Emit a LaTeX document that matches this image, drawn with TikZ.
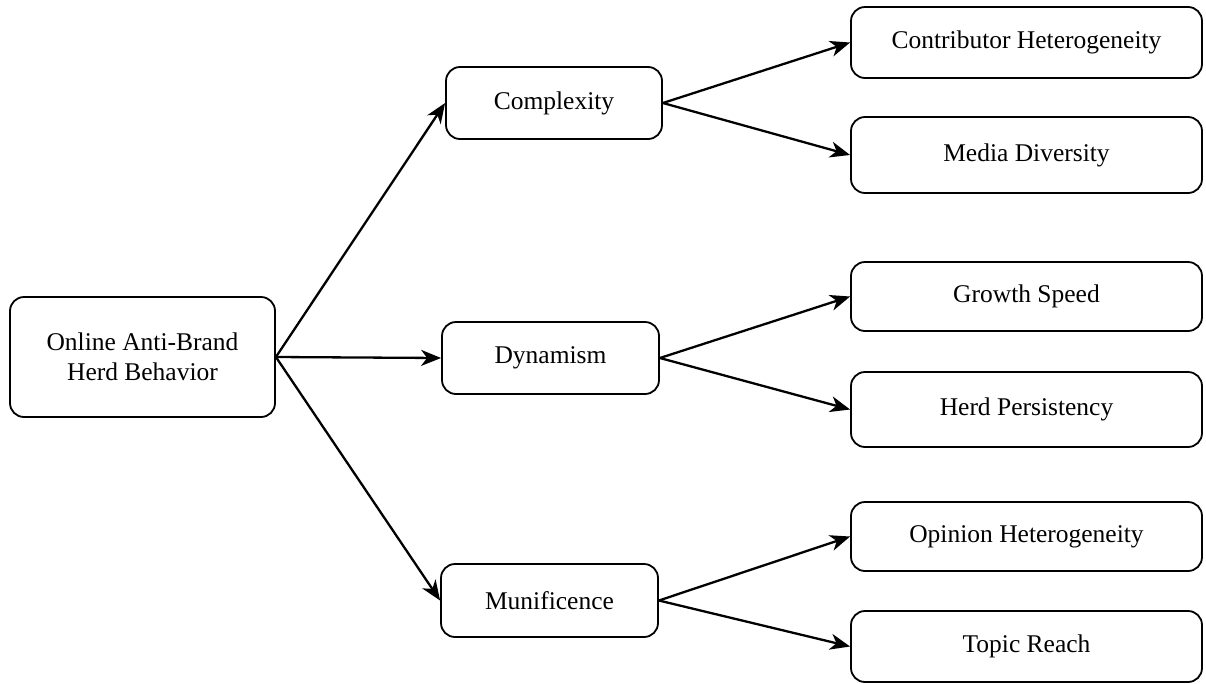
\documentclass[tikz,border=0pt]{standalone}
\usepackage{fontspec}
\setmainfont{Liberation Serif}
\usetikzlibrary{arrows.meta}
\begin{document}
\begin{tikzpicture}[x=1pt,y=-1pt,
  box/.style={draw, line width=1.8pt, rounded corners=14pt, inner sep=0pt, align=center,
    font=\fontsize{25.5}{30}\selectfont},
  conn/.style={line width=2.3pt, -{Stealth[length=20pt,width=16pt,inset=6pt]}}]
\useasboundingbox (0,0) rectangle (1206,683);
\node[box, minimum width=265pt, minimum height=120pt] (root) at (142.5,357) {Online Anti-Brand\\Herd Behavior};
\node[box, minimum width=216pt, minimum height=72pt] (cx) at (554,103) {Complexity};
\node[box, minimum width=217pt, minimum height=72pt] (dy) at (550.5,358) {Dynamism};
\node[box, minimum width=217pt, minimum height=73pt] (mu) at (549.5,600.5) {Munificence};
\node[box, minimum width=351pt, minimum height=71pt] (ch) at (1026.5,42.5) {Contributor Heterogeneity};
\node[box, minimum width=351pt, minimum height=76pt] (md) at (1026.5,155) {Media Diversity};
\node[box, minimum width=351pt, minimum height=69pt] (gs) at (1026.5,296.5) {Growth Speed};
\node[box, minimum width=351pt, minimum height=75pt] (hp) at (1026.5,409.5) {Herd Persistency};
\node[box, minimum width=351pt, minimum height=69pt] (oh) at (1026.5,536.5) {Opinion Heterogeneity};
\node[box, minimum width=351pt, minimum height=71pt] (tr) at (1026.5,646.5) {Topic Reach};
\draw[conn] (root.east) -- (cx.west);
\draw[conn] (root.east) -- (dy.west);
\draw[conn] (root.east) -- (mu.west);
\draw[conn] (cx.east) -- (ch.west);
\draw[conn] (cx.east) -- (md.west);
\draw[conn] (dy.east) -- (gs.west);
\draw[conn] (dy.east) -- (hp.west);
\draw[conn] (mu.east) -- (oh.west);
\draw[conn] (mu.east) -- (tr.west);
\end{tikzpicture}
\end{document}
